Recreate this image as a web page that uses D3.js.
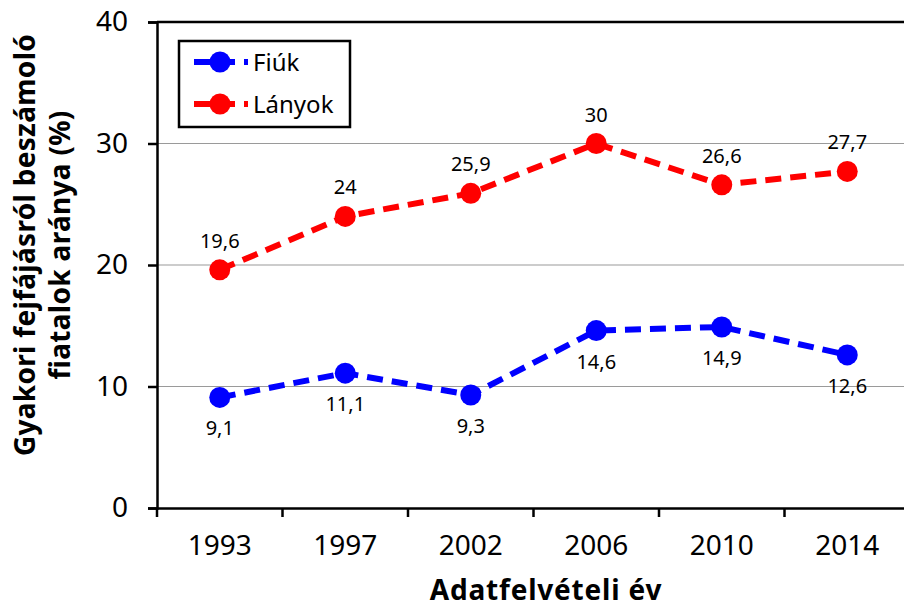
<!DOCTYPE html>
<html>
<head>
<meta charset="utf-8">
<script src="https://cdn.jsdelivr.net/npm/d3@7"></script>
<style>
  body { margin: 0; background: #fff; }
  text { font-family: "Noto Sans", "Open Sans", sans-serif; fill: #000; }
</style>
</head>
<body>
<div id="chart"></div>
<script>
// chart data
var years = ["1993", "1997", "2002", "2006", "2010", "2014"];
var fiuk = [9.1, 11.1, 9.3, 14.6, 14.9, 12.6];
var lanyok = [19.6, 24, 25.9, 30, 26.6, 27.7];
var yTicks = [0, 10, 20, 30, 40];
var seriesNames = ["Fiúk", "Lányok"];

var W = 904, H = 608;
var margin = {top: 22, left: 157, bottom: 100};

var svg = d3.select("#chart").append("svg")
    .attr("width", W)
    .attr("height", H);

var x = d3.scaleBand()
    .domain(years)
    .range([margin.left, margin.left + 6 * 125.5]);

var y = d3.scaleLinear()
    .domain([0, 40])
    .range([H - margin.bottom, margin.top]);

var fmt = function(v) { return String(v).replace(".", ","); };

// grid lines
svg.append("g")
    .selectAll("line")
    .data(yTicks.filter(function(d) { return d > 0 && d < 40; }))
    .enter().append("line")
        .attr("x1", margin.left)
        .attr("x2", W)
        .attr("y1", function(d) { return y(d); })
        .attr("y2", function(d) { return y(d); })
        .attr("stroke", "#9a9a9a")
        .attr("stroke-width", 1.2);

// top border
svg.append("line")
    .attr("x1", margin.left).attr("x2", W)
    .attr("y1", y(40)).attr("y2", y(40))
    .attr("stroke", "#000").attr("stroke-width", 2.5);

// y axis
var yAxis = svg.append("g")
    .attr("transform", "translate(" + margin.left + ",0)")
    .call(d3.axisLeft(y).tickValues(yTicks).tickSize(9).tickPadding(20));
yAxis.select(".domain").attr("stroke-width", 2.5);
yAxis.selectAll(".tick line").attr("stroke-width", 2.5);
yAxis.selectAll("text")
    .style("font-size", "28px")
    .attr("font-family", null);

// x axis
var xAxis = svg.append("g")
    .attr("transform", "translate(0," + y(0) + ")")
    .call(d3.axisBottom(x).tickSize(0).tickPadding(27));
xAxis.select(".domain").attr("stroke-width", 2.5);
xAxis.selectAll("text")
    .style("font-size", "28px")
    .attr("font-family", null);

// x tick marks on band boundaries
svg.append("g")
    .selectAll("line")
    .data(years)
    .enter().append("line")
        .attr("x1", function(d) { return x(d); })
        .attr("x2", function(d) { return x(d); })
        .attr("y1", y(0))
        .attr("y2", y(0) + 9)
        .attr("stroke", "#000")
        .attr("stroke-width", 2.5);

// series
var series = [
    {name: seriesNames[0], values: fiuk, color: "#0000ff", labelDy: 38},
    {name: seriesNames[1], values: lanyok, color: "#ff0000", labelDy: -22}
];

var line = d3.line()
    .x(function(d, i) { return x(years[i]) + x.bandwidth() / 2; })
    .y(function(d) { return y(d); });

series.forEach(function(s) {
    var g = svg.append("g");

    g.append("path")
        .datum(s.values)
        .attr("d", line)
        .attr("fill", "none")
        .attr("stroke", s.color)
        .attr("stroke-width", 6)
        .attr("stroke-dasharray", "16,9");

    g.selectAll("circle")
        .data(s.values)
        .enter().append("circle")
            .attr("cx", function(d, i) { return x(years[i]) + x.bandwidth() / 2; })
            .attr("cy", function(d) { return y(d); })
            .attr("r", 10.5)
            .attr("fill", s.color);

    g.selectAll("text")
        .data(s.values)
        .enter().append("text")
            .attr("x", function(d, i) { return x(years[i]) + x.bandwidth() / 2; })
            .attr("y", function(d) { return y(d) + s.labelDy; })
            .attr("text-anchor", "middle")
            .style("font-size", "20px")
            .text(fmt);
});

// legend
var legend = svg.append("g");
legend.append("rect")
    .attr("x", 179).attr("y", 41)
    .attr("width", 171).attr("height", 86)
    .attr("fill", "#fff")
    .attr("stroke", "#000")
    .attr("stroke-width", 2.5);

series.forEach(function(s, i) {
    var ly = 62 + i * 42;
    legend.append("line")
        .attr("x1", 194).attr("x2", 248)
        .attr("y1", ly).attr("y2", ly)
        .attr("stroke", s.color)
        .attr("stroke-width", 6)
        .attr("stroke-dasharray", "16,9");
    legend.append("circle")
        .attr("cx", 220).attr("cy", ly)
        .attr("r", 10.5)
        .attr("fill", s.color);
    legend.append("text")
        .attr("x", 253).attr("y", ly + 9)
        .style("font-size", "24px")
        .text(s.name);
});

// axis titles
svg.append("text")
    .attr("x", 546).attr("y", 600)
    .attr("text-anchor", "middle")
    .style("font-size", "28px")
    .style("font-weight", "bold")
    .style("letter-spacing", "0.8px")
    .text("Adatfelvételi év");

var yTitle = svg.append("text")
    .attr("transform", "translate(0,245) rotate(-90)")
    .attr("text-anchor", "middle")
    .style("font-size", "28px")
    .style("font-weight", "bold")
    .style("letter-spacing", "0.3px");
yTitle.append("tspan").attr("x", 0).attr("y", 35).text("Gyakori fejfájásról beszámoló");
yTitle.append("tspan").attr("x", 0).attr("y", 70).text("fiatalok aránya (%)");
</script>
</body>
</html>
